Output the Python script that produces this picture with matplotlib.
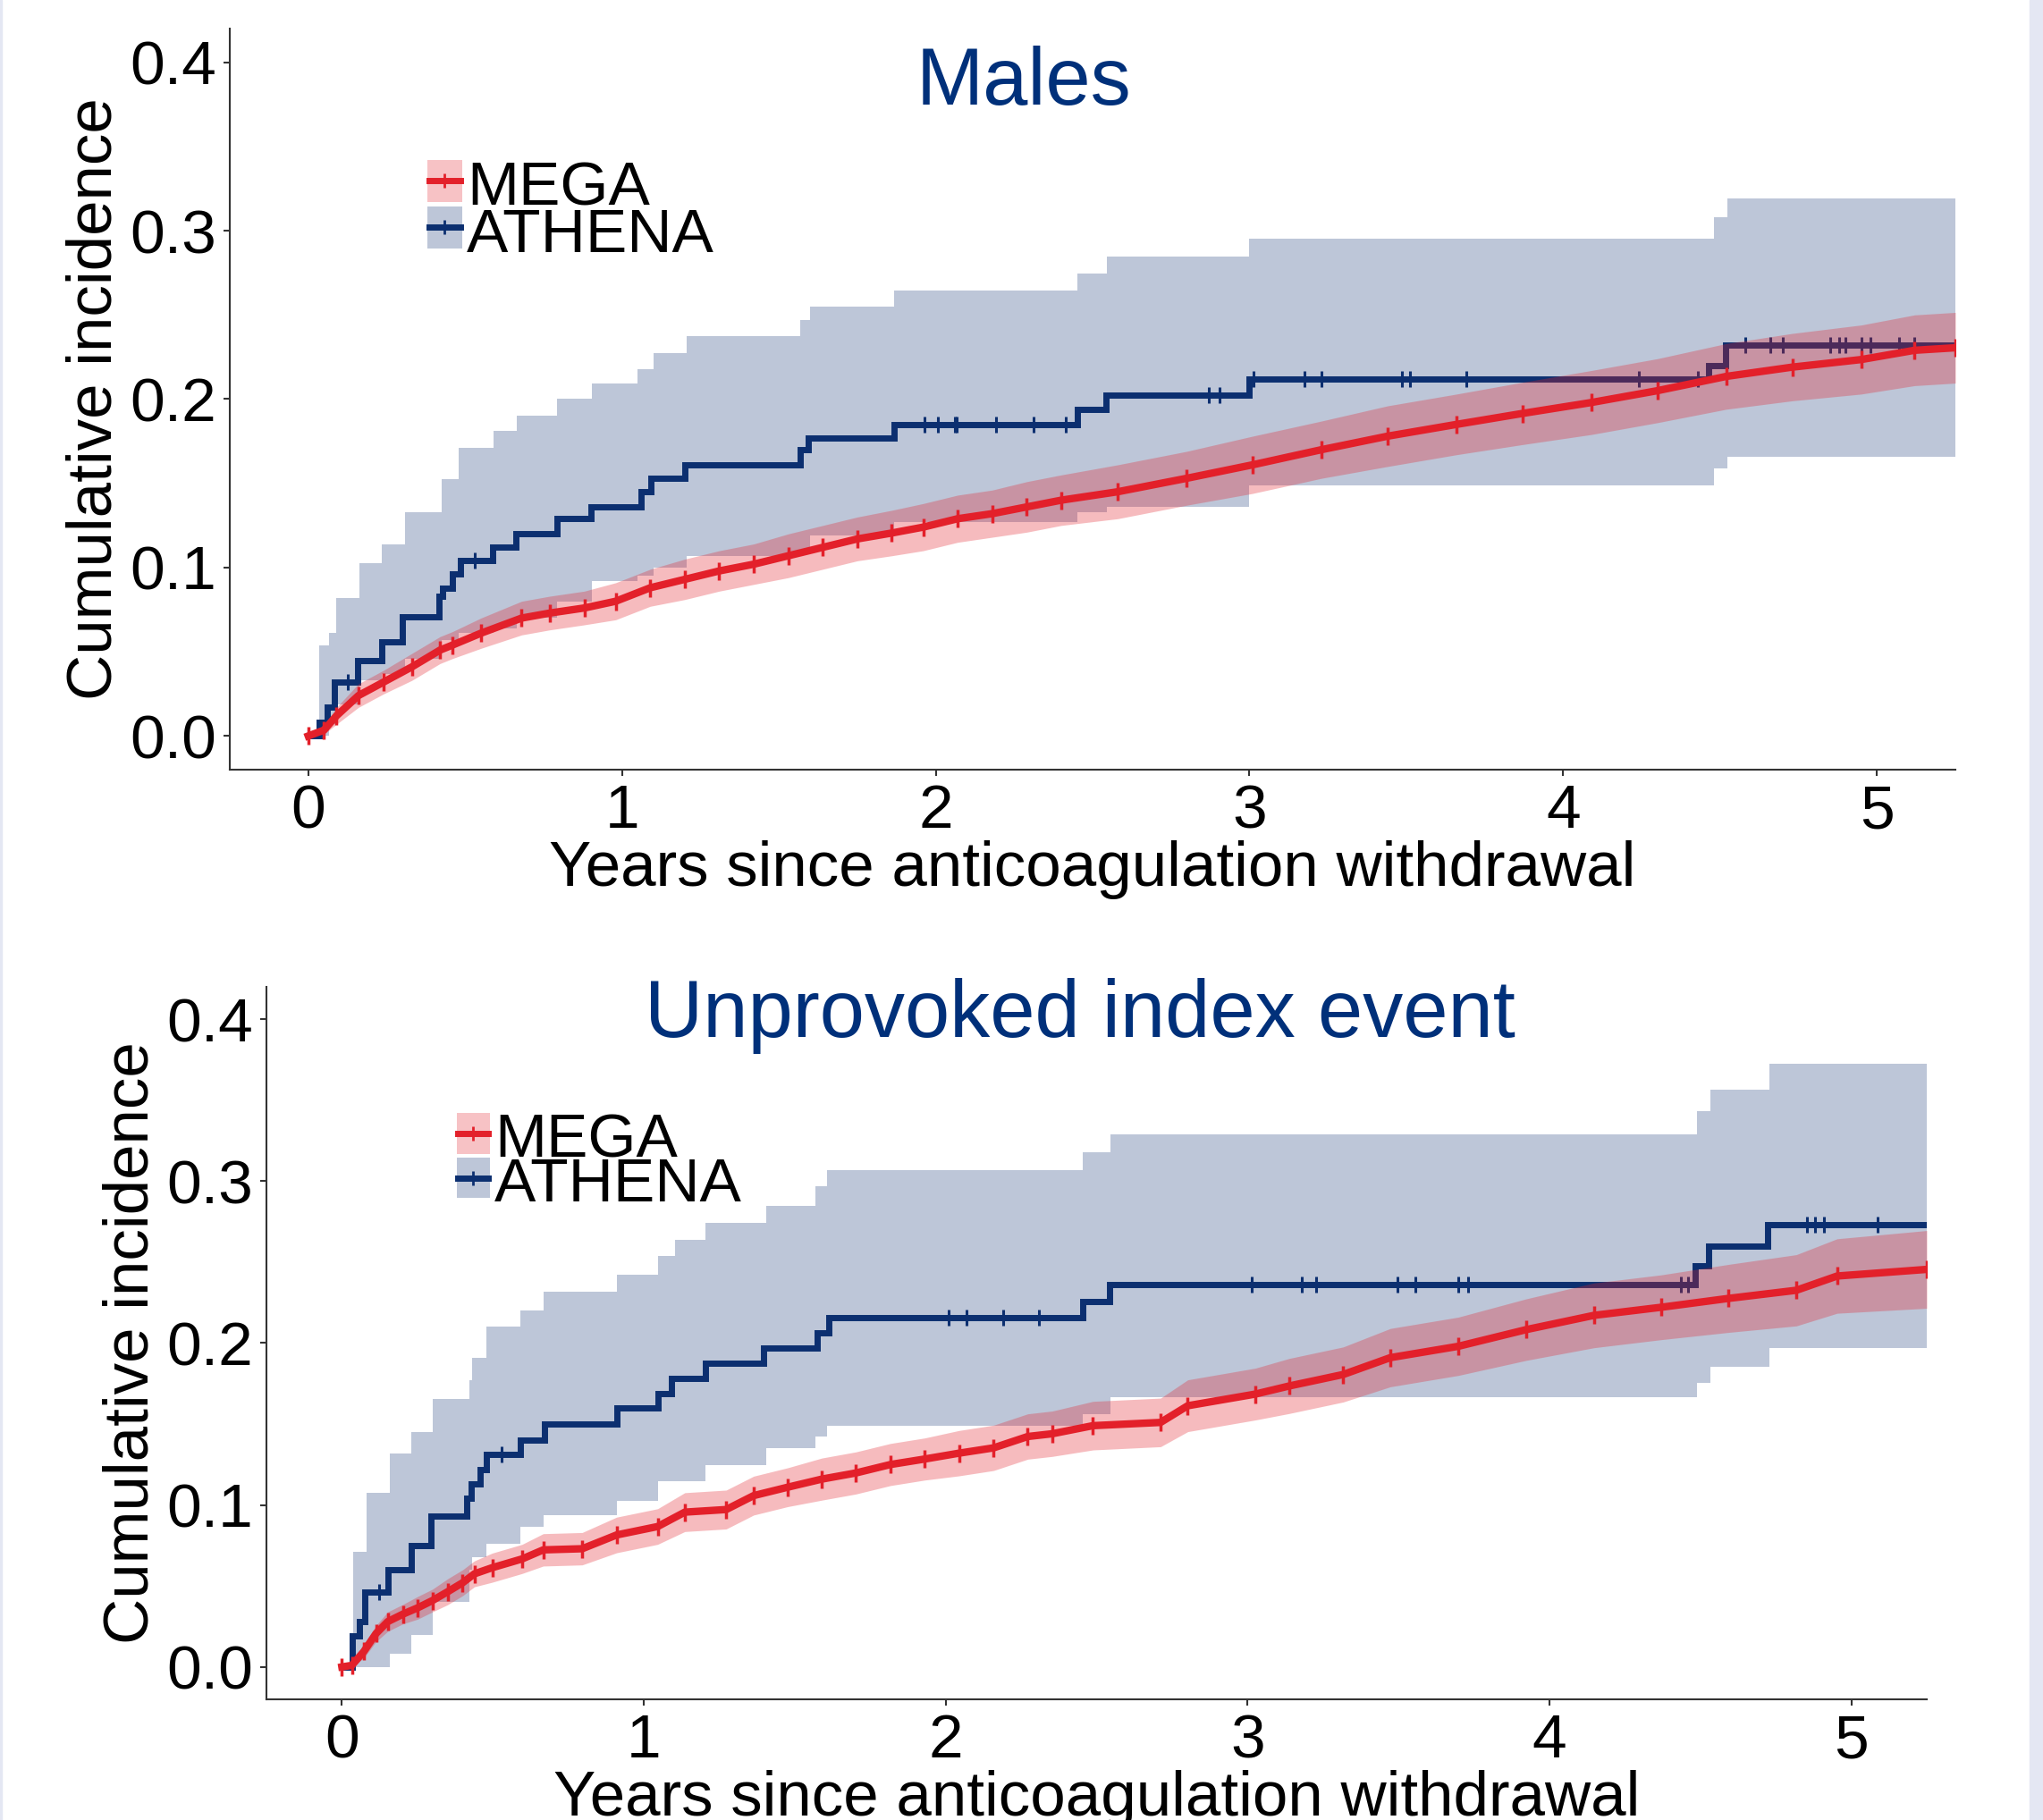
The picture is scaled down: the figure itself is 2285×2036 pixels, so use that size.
import numpy as np
import matplotlib
matplotlib.use('Agg')
import matplotlib.pyplot as plt
from matplotlib.patches import Rectangle

plt.rcParams['font.family'] = ['Liberation Sans', 'DejaVu Sans']

# ---- Males panel ----
athena_m_t = [0, 0.034, 0.060, 0.082, 0.157, 0.233, 0.300, 0.418, 0.427, 0.460, 0.484, 0.589, 0.661,
              0.792, 0.901, 1.060, 1.093, 1.200, 1.567, 1.593, 1.866, 2.452, 2.543, 2.999, 4.464, 4.518, 5.25]
athena_m_y = [0, 0.008, 0.017, 0.032, 0.045, 0.056, 0.071, 0.083, 0.088, 0.096, 0.104, 0.112, 0.120,
              0.129, 0.136, 0.145, 0.153, 0.161, 0.170, 0.177, 0.185, 0.194, 0.2025, 0.212, 0.220, 0.232, 0.232]
athena_m_cens = [0.127, 0.53, 1.963, 2.006, 2.060, 2.068, 2.191, 2.313, 2.415, 2.870, 2.905, 3.013, 3.175,
                 3.229, 3.485, 3.513, 3.69, 4.24, 4.43, 4.58, 4.66, 4.70, 4.85, 4.88, 4.90, 4.95, 4.98, 5.07, 5.12]
athena_m_bt = [0.036, 0.065, 0.089, 0.162, 0.234, 0.309, 0.426, 0.478, 0.590, 0.665, 0.792, 0.904, 1.049,
               1.100, 1.205, 1.567, 1.600, 1.866, 2.452, 2.545, 3.000, 4.481, 4.523, 5.25]
athena_m_lo = [0.0, 0.007, 0.019, 0.033, 0.037, 0.046, 0.057, 0.061, 0.064, 0.070, 0.080, 0.092, 0.095,
               0.100, 0.107, 0.111, 0.119, 0.127, 0.133, 0.136, 0.149, 0.159, 0.166, 0.166]
athena_m_hi = [0.054, 0.061, 0.082, 0.1025, 0.1136, 0.133, 0.1526, 0.171, 0.1814, 0.190, 0.200, 0.2095, 0.2177,
               0.2271, 0.2373, 0.2468, 0.255, 0.2645, 0.2746, 0.2847, 0.295, 0.308, 0.319, 0.319]

mega_m_t = [0, 0.05, 0.09, 0.16, 0.24, 0.33, 0.42, 0.46, 0.55, 0.68, 0.77, 0.88, 0.98, 1.09, 1.20, 1.31,
            1.42, 1.53, 1.64, 1.75, 1.86, 1.96, 2.07, 2.18, 2.29, 2.40, 2.58, 2.80, 3.01, 3.23, 3.44, 3.66,
            3.87, 4.09, 4.30, 4.52, 4.73, 4.95, 5.12, 5.25]
mega_m_y = [0, 0.0035, 0.012, 0.024, 0.032, 0.041, 0.051, 0.054, 0.061, 0.070, 0.073, 0.076, 0.080, 0.088,
            0.093, 0.098, 0.102, 0.107, 0.112, 0.117, 0.1205, 0.124, 0.129, 0.132, 0.136, 0.140, 0.145, 0.153,
            0.161, 0.170, 0.178, 0.185, 0.1915, 0.198, 0.205, 0.2135, 0.219, 0.2235, 0.229, 0.2305]
mega_m_lo = [0, 0.001, 0.007, 0.017, 0.025, 0.033, 0.043, 0.046, 0.052, 0.060, 0.063, 0.066, 0.069, 0.077,
             0.081, 0.086, 0.090, 0.094, 0.099, 0.104, 0.107, 0.110, 0.115, 0.118, 0.121, 0.125, 0.129, 0.137,
             0.144, 0.153, 0.160, 0.167, 0.173, 0.179, 0.186, 0.194, 0.199, 0.203, 0.208, 0.2095]
mega_m_hi = [0, 0.006, 0.017, 0.031, 0.039, 0.049, 0.059, 0.062, 0.070, 0.080, 0.083, 0.086, 0.091, 0.099,
             0.105, 0.110, 0.114, 0.120, 0.125, 0.130, 0.134, 0.138, 0.143, 0.146, 0.151, 0.155, 0.161, 0.169,
             0.178, 0.187, 0.196, 0.203, 0.210, 0.217, 0.224, 0.233, 0.239, 0.244, 0.250, 0.2515]

# ---- Unprovoked index event panel ----
athena_u_t = [0, 0.033, 0.058, 0.077, 0.152, 0.231, 0.296, 0.414, 0.429, 0.458, 0.478, 0.592, 0.670,
              0.910, 1.046, 1.091, 1.205, 1.397, 1.575, 1.613, 2.454, 2.544, 4.482, 4.527, 4.724, 5.25]
athena_u_y = [0, 0.019, 0.028, 0.046, 0.060, 0.075, 0.093, 0.104, 0.113, 0.122, 0.131, 0.140, 0.150,
              0.160, 0.169, 0.178, 0.1875, 0.197, 0.2066, 0.2155, 0.2256, 0.236, 0.248, 0.260, 0.273, 0.273]
athena_u_cens = [0.122, 0.528, 2.011, 2.07, 2.19, 2.31, 3.015, 3.18, 3.227, 3.496, 3.556, 3.697, 3.73,
                 4.437, 4.46, 4.852, 4.881, 4.908, 5.088]
athena_u_bt = [0.036, 0.081, 0.16, 0.229, 0.302, 0.421, 0.43, 0.478, 0.592, 0.667, 0.91, 1.046, 1.103,
               1.205, 1.405, 1.568, 1.606, 2.454, 2.547, 4.489, 4.534, 4.729, 5.25]
athena_u_lo = [0.0, 0.0, 0.008, 0.020, 0.040, 0.060, 0.0676, 0.0762, 0.0867, 0.0936, 0.1023, 0.1145, 0.1145,
               0.1249, 0.1353, 0.1423, 0.149, 0.1563, 0.1666, 0.1752, 0.1856, 0.1968, 0.1968]
athena_u_hi = [0.0713, 0.1077, 0.132, 0.145, 0.1657, 0.177, 0.191, 0.21, 0.2204, 0.2315, 0.242, 0.2536, 0.264,
               0.2743, 0.2847, 0.2968, 0.3066, 0.3177, 0.3288, 0.343, 0.3566, 0.3723, 0.3723]

mega_u_t = [0, 0.033, 0.073, 0.113, 0.152, 0.202, 0.251, 0.30, 0.35, 0.40, 0.439, 0.498, 0.597, 0.667,
            0.796, 0.91, 1.046, 1.136, 1.273, 1.364, 1.477, 1.59, 1.703, 1.817, 1.931, 2.044, 2.159, 2.272,
            2.353, 2.488, 2.712, 2.802, 3.026, 3.138, 3.317, 3.473, 3.698, 3.923, 4.147, 4.37, 4.594, 4.818,
            4.953, 5.25]
mega_u_y = [0, 0.001, 0.0096, 0.0206, 0.028, 0.0326, 0.0365, 0.041, 0.0464, 0.052, 0.0575, 0.0613, 0.0667,
            0.0723, 0.073, 0.0815, 0.0867, 0.0956, 0.0972, 0.1058, 0.111, 0.116, 0.1198, 0.125, 0.1284, 0.132,
            0.1353, 0.1423, 0.144, 0.149, 0.151, 0.1613, 0.1685, 0.1735, 0.1806, 0.191, 0.198, 0.2083, 0.2171,
            0.2221, 0.2276, 0.2326, 0.2414, 0.2455]
mega_u_lo = [0, 0, 0.0056, 0.0156, 0.022, 0.0266, 0.0295, 0.034, 0.0384, 0.044, 0.0495, 0.0523, 0.0577,
             0.0623, 0.063, 0.0705, 0.0757, 0.0836, 0.0852, 0.0938, 0.099, 0.103, 0.1068, 0.112, 0.1154, 0.118,
             0.1213, 0.1283, 0.130, 0.134, 0.136, 0.1453, 0.1525, 0.1565, 0.1636, 0.173, 0.180, 0.1893, 0.1971,
             0.2021, 0.2066, 0.2106, 0.2184, 0.2215]
mega_u_hi = [0, 0.003, 0.0136, 0.0256, 0.034, 0.0386, 0.0435, 0.048, 0.0544, 0.060, 0.0655, 0.0703, 0.0757,
             0.0823, 0.083, 0.0925, 0.0977, 0.1076, 0.1092, 0.1178, 0.123, 0.129, 0.1328, 0.138, 0.1414, 0.146,
             0.1493, 0.1563, 0.158, 0.164, 0.166, 0.1773, 0.1845, 0.1905, 0.1976, 0.209, 0.216, 0.2273, 0.2371,
             0.2421, 0.2486, 0.2546, 0.2644, 0.2695]

titles = ['Males', 'Unprovoked index event']
series_names = ['MEGA', 'ATHENA']
xticks = [0, 1, 2, 3, 4, 5]
yticks = [0.0, 0.1, 0.2, 0.3, 0.4]

NAVY = '#0c2f70'
RED = '#e3202a'
TITLE_C = '#00307a'


def step_value(t, y, x):
    idx = np.searchsorted(t, x, side='right') - 1
    return np.asarray(y)[idx]


def draw_panel(ax, a_t, a_y, a_cens, a_bt, a_lo, a_hi, m_t, m_y, m_lo, m_hi):
    # ATHENA band + line
    ax.fill_between(a_bt, a_lo, a_hi, step='post', color=NAVY, alpha=0.27, lw=0, zorder=1)
    ax.step(a_t, a_y, where='post', color=NAVY, lw=5, zorder=2, solid_joinstyle='miter')
    ax.plot(a_cens, step_value(a_t, a_y, a_cens), ls='none', marker='|', ms=13, mew=2.2,
            color=NAVY, zorder=2)
    # MEGA band + line
    ax.fill_between(m_t, m_lo, m_hi, color=RED, alpha=0.3, lw=0, zorder=3)
    ax.plot(m_t, m_y, color=RED, lw=6, marker='|', ms=15, mew=2.5, zorder=4)

    ax.set_xlim(-0.25, 5.25)
    ax.set_ylim(-0.02, 0.42)
    ax.set_xticks(xticks)
    ax.set_yticks(yticks)
    ax.set_yticklabels([f'{v:.1f}' for v in yticks])
    for s in ['top', 'right']:
        ax.spines[s].set_visible(False)
    for s in ['left', 'bottom']:
        ax.spines[s].set_color('#333333')
        ax.spines[s].set_linewidth(1.5)
    ax.tick_params(labelsize=50, length=5, width=1.5, color='#333333', pad=6)
    ax.set_xlabel('Years since anticoagulation withdrawal', fontsize=51, labelpad=0)
    ax.set_ylabel('Cumulative incidence', fontsize=51, labelpad=4)

    # legend keys
    for (name, col, y0) in [('MEGA', RED, 0.317), ('ATHENA', NAVY, 0.2895)]:
        ax.add_patch(Rectangle((0.38, y0), 0.11, 0.025, color=col, alpha=0.27, lw=0, zorder=5))
        ax.plot([0.385, 0.485], [y0 + 0.0125] * 2, color=col, lw=5, zorder=6)
        ax.plot([0.435], [y0 + 0.0125], marker='|', ms=12, mew=2, color=col, zorder=6)
        ax.text(0.505, y0 - 0.002, name, fontsize=50, va='baseline', ha='left', zorder=6)


fig = plt.figure(figsize=(22.85, 20.36), dpi=100)
ax1 = fig.add_axes([0.1125, 0.5771, 0.8446, 0.4072])
ax2 = fig.add_axes([0.1304, 0.0663, 0.8127, 0.3915])

draw_panel(ax1, athena_m_t, athena_m_y, athena_m_cens, athena_m_bt, athena_m_lo, athena_m_hi,
           mega_m_t, mega_m_y, mega_m_lo, mega_m_hi)
draw_panel(ax2, athena_u_t, athena_u_y, athena_u_cens, athena_u_bt, athena_u_lo, athena_u_hi,
           mega_u_t, mega_u_y, mega_u_lo, mega_u_hi)

fig.text(0.501, 0.9425, titles[0], fontsize=65, color=TITLE_C, ha='center', va='baseline')
fig.text(0.5287, 0.4303, titles[1], fontsize=65, color=TITLE_C, ha='center', va='baseline')

# slide edge strips
fig.patches.append(Rectangle((2270 / 2285, 0), 15 / 2285, 1, transform=fig.transFigure,
                             color='#e4e7f3', zorder=0))
fig.patches.append(Rectangle((0, 0), 2 / 2285, 1, transform=fig.transFigure,
                             color='#e4e7f3', zorder=0))

fig.savefig('out.png', dpi=100)
